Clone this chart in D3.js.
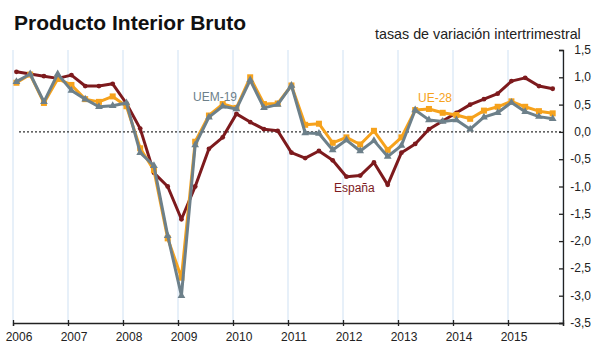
<!DOCTYPE html>
<html>
<head>
<meta charset="utf-8">
<script src="https://cdn.jsdelivr.net/npm/d3@7"></script>
<style>
  body { margin: 0; background: #fff; }
  text { font-family: Arial, "Liberation Sans", Helvetica, sans-serif; }
</style>
</head>
<body>
<div class="container"></div>
<script>
const WIDTH = 605;
const HEIGHT = 351;
const X_LEFT = 13;
const X_RIGHT = 563;
const Y_TOP = 50;
const Y_BOTTOM = 323;

var years = [2006, 2007, 2008, 2009, 2010, 2011, 2012, 2013, 2014, 2015];
var yTicks = [1.5, 1.0, 0.5, 0.0, -0.5, -1.0, -1.5, -2.0, -2.5, -3.0, -3.5];

// tasas intertrimestrales, 2006T1 .. 2015T4
var espana = [1.10, 1.06, 1.02, 0.98, 1.04, 0.84, 0.84, 0.88,
              0.52, 0.06, -0.75, -1.00, -1.60, -1.00, -0.31, -0.10,
              0.33, 0.18, 0.05, 0.02, -0.38, -0.48, -0.35, -0.52,
              -0.82, -0.80, -0.56, -0.97, -0.38, -0.22, 0.05, 0.20,
              0.35, 0.50, 0.60, 0.70, 0.93, 0.99, 0.84, 0.79];
var ue28 = [0.90, 1.05, 0.53, 0.97, 0.86, 0.60, 0.55, 0.65,
            0.47, -0.30, -0.70, -1.95, -2.67, -0.18, 0.30, 0.51,
            0.44, 1.00, 0.51, 0.52, 0.85, 0.13, 0.15, -0.20,
            -0.10, -0.23, 0.02, -0.33, -0.10, 0.40, 0.42, 0.35,
            0.31, 0.24, 0.39, 0.46, 0.56, 0.46, 0.38, 0.34];
var uem19 = [0.92, 1.06, 0.55, 1.06, 0.76, 0.60, 0.46, 0.48,
             0.53, -0.38, -0.62, -1.90, -3.00, -0.24, 0.27, 0.47,
             0.42, 0.95, 0.44, 0.50, 0.85, -0.02, -0.03, -0.33,
             -0.15, -0.35, -0.16, -0.45, -0.25, 0.40, 0.22, 0.19,
             0.22, 0.05, 0.27, 0.35, 0.54, 0.37, 0.28, 0.24];

var xScale = d3.scaleLinear().domain([2006, 2016]).range([X_LEFT, X_RIGHT]);
var yScale = d3.scaleLinear().domain([-3.5, 1.5]).range([Y_BOTTOM, Y_TOP]);

var esLocale = d3.formatLocale({decimal: ",", thousands: ".", grouping: [3], currency: ["", " €"], minus: "-"});
var fmt = esLocale.format(".1f");

var toPoints = function(values) {
    return values.map(function(v, i) {
        return {x: 2006 + Math.floor(i / 4) + (i % 4) / 4 + 1 / 16, y: v};
    });
};

var line = d3.line()
    .x(function(d) { return xScale(d.x); })
    .y(function(d) { return yScale(d.y); });

var svg = d3.select('.container').append('svg')
    .attr('width', WIDTH)
    .attr('height', HEIGHT);

// rejilla vertical
svg.append('g').selectAll('line')
    .data(years.concat([2016]))
    .enter().append('line')
    .attr('x1', function(d) { return xScale(d); })
    .attr('x2', function(d) { return xScale(d); })
    .attr('y1', Y_TOP)
    .attr('y2', Y_BOTTOM)
    .attr('stroke', '#cfe1f3')
    .attr('stroke-width', 1);

// linea de cero
svg.append('line')
    .attr('x1', 19).attr('x2', X_RIGHT)
    .attr('y1', yScale(0)).attr('y2', yScale(0))
    .attr('stroke', '#333')
    .attr('stroke-width', 1.3)
    .attr('stroke-dasharray', '2,2');

// eje x
var xAxis = d3.axisBottom(xScale).tickValues(years.concat([2016])).tickSize(3).tickFormat('');
var gx = svg.append('g')
    .attr('transform', 'translate(0,' + Y_BOTTOM + ')')
    .call(xAxis);
gx.select('.domain').attr('stroke', '#222').attr('stroke-width', 1.3);
gx.selectAll('.tick line').attr('y1', -3).attr('stroke', '#222').attr('stroke-width', 1.3);

svg.append('g').selectAll('text')
    .data(years)
    .enter().append('text')
    .attr('x', function(d) { return xScale(d) + 6; })
    .attr('y', 341)
    .attr('text-anchor', 'middle')
    .attr('font-size', 12)
    .attr('fill', '#222')
    .text(function(d) { return d; });

// eje y a la derecha
var yAxis = d3.axisRight(yScale).tickValues(yTicks).tickSize(-4).tickFormat('');
var gy = svg.append('g')
    .attr('transform', 'translate(' + X_RIGHT + ',0)')
    .call(yAxis);
gy.select('.domain').attr('stroke', '#222').attr('stroke-width', 1.3);
gy.selectAll('.tick line').attr('stroke', '#222').attr('stroke-width', 1.3);

svg.append('g').selectAll('text')
    .data(yTicks)
    .enter().append('text')
    .attr('x', 591)
    .attr('y', function(d) { return yScale(d) + 4; })
    .attr('text-anchor', 'end')
    .attr('font-size', 12)
    .attr('fill', '#222')
    .text(function(d) { return fmt(d); });

// series
var drawSeries = function(values, color) {
    svg.append('path')
        .datum(toPoints(values))
        .attr('d', line)
        .attr('fill', 'none')
        .attr('stroke', color)
        .attr('stroke-width', 3)
        .attr('stroke-linejoin', 'round');
};

drawSeries(espana, '#7d1a1d');
svg.append('g').selectAll('circle')
    .data(toPoints(espana))
    .enter().append('circle')
    .attr('cx', function(d) { return xScale(d.x); })
    .attr('cy', function(d) { return yScale(d.y); })
    .attr('r', 2.4)
    .attr('fill', '#7d1a1d');

drawSeries(ue28, '#f6a21c');
svg.append('g').selectAll('rect')
    .data(toPoints(ue28))
    .enter().append('rect')
    .attr('x', function(d) { return xScale(d.x) - 3; })
    .attr('y', function(d) { return yScale(d.y) - 3; })
    .attr('width', 6)
    .attr('height', 6)
    .attr('fill', '#f6a21c');

drawSeries(uem19, '#6d808a');
svg.append('g').selectAll('path')
    .data(toPoints(uem19))
    .enter().append('path')
    .attr('d', d3.symbol().type(d3.symbolTriangle).size(26))
    .attr('transform', function(d) { return 'translate(' + xScale(d.x) + ',' + yScale(d.y) + ')'; })
    .attr('fill', '#6d808a');

// etiquetas de series
svg.append('text').attr('x', 193).attr('y', 101).attr('font-size', 12)
    .attr('fill', '#6d808a').text('UEM-19');
svg.append('text').attr('x', 418).attr('y', 102).attr('font-size', 12)
    .attr('fill', '#f6a21c').text('UE-28');
svg.append('text').attr('x', 334).attr('y', 192).attr('font-size', 12)
    .attr('fill', '#7d1a1d').text('España');

// titulos
svg.append('text')
    .attr('x', 14).attr('y', 30)
    .attr('font-size', 21)
    .attr('font-weight', 'bold')
    .attr('fill', '#111')
    .text('Producto Interior Bruto');
svg.append('text')
    .attr('x', 375).attr('y', 39)
    .attr('font-size', 14.3)
    .attr('fill', '#222')
    .text('tasas de variación intertrimestral');
</script>
</body>
</html>
